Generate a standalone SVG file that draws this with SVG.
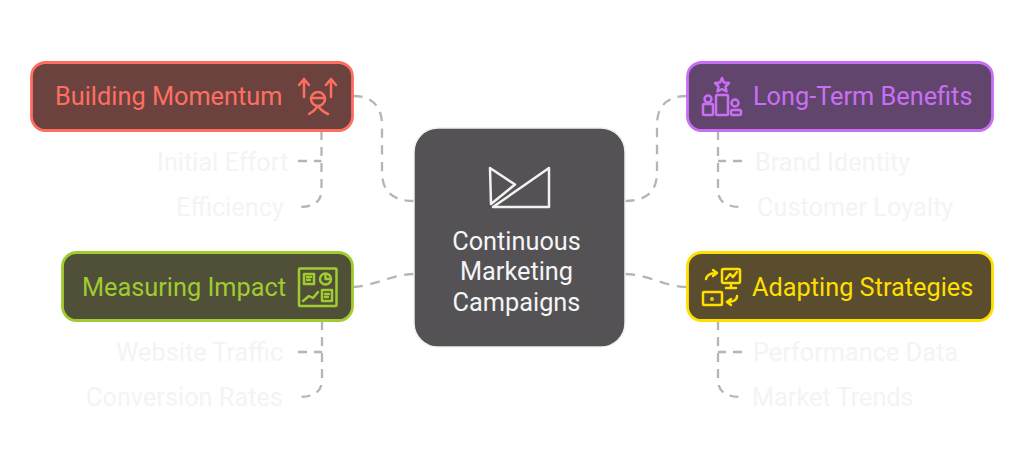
<svg xmlns="http://www.w3.org/2000/svg" width="1024" height="475" viewBox="0 0 1024 475">
<style>
text{font-family:Roboto,"Liberation Sans",sans-serif;font-size:25.300px}
.sub{fill:#f4f3f6}
.main{stroke-width:2.800}
.ic{fill:none;stroke-width:2.500;stroke-linecap:round;stroke-linejoin:round}
#connectors path{fill:none;stroke:#b5b5b7;stroke-width:2.300;stroke-dasharray:9 7}
</style>
<rect width="1024" height="475" fill="#ffffff"/>
<g id="connectors">
<path pathLength="137" d="M353 96C372 96 382 106 382 125V172C382 191 392 201 414 201"/>
<path d="M321.500 131V190C321.500 201 315 207 298 207"/>
<path d="M298 161H321.500"/>
<path pathLength="57" d="M353 287C375 286 392 274 414 274"/>
<path d="M322 321V380C322 391 315 397 298 397"/>
<path d="M298 352H322"/>
<path pathLength="137" d="M687 96C667 96 657 106 657 125V172C657 191 647 201 625 201"/>
<path d="M718 131V190C718 201 725 207 742 207"/>
<path d="M742 161H718"/>
<path pathLength="57" d="M687 287C665 287 648 274 625 274"/>
<path d="M718 321V380C718 391 725 397 742 397"/>
<path d="M742 352H718"/>
</g>
<g id="center">
<rect x="414" y="128" width="211" height="219" rx="24" fill="#545255" stroke="#f0f0f1" stroke-width="1.500"/>
<g class="ic" stroke="#f2f2f2"><path d="M490 168L515 184.500L491 204ZM549 168V207H493Z"/></g>
<text x="516.500" y="249.500" text-anchor="middle" fill="#f5f5f5">Continuous</text>
<text x="516.500" y="280" text-anchor="middle" fill="#f5f5f5">Marketing</text>
<text x="516.500" y="310.500" text-anchor="middle" fill="#f5f5f5">Campaigns</text>
</g>
<g id="building-momentum">
<rect class="main" x="31.500" y="62.500" width="321" height="68" rx="14" fill="#6b423e" stroke="#ff6f61"/>
<text x="55" y="104.700" fill="#ff6f61">Building Momentum</text>
<g class="ic" stroke="#ff6f61"><path d="M304 97V79M299 85L304 79L309 85M331 97V79M326 85L331 79L336 85"/><circle cx="318" cy="99" r="7"/><path d="M311 98H325M309 114C313 112 315 110 318 106C321 110 323 112 328 114"/></g>
</g>
<g id="initial-effort"><text class="sub" x="157" y="170.500">Initial Effort</text></g>
<g id="efficiency"><text class="sub" x="176" y="215.500">Efficiency</text></g>
<g id="measuring-impact">
<rect class="main" x="62.500" y="252.500" width="290" height="68" rx="14" fill="#4f5037" stroke="#a0cc31"/>
<text x="82" y="295.500" fill="#a0cc31">Measuring Impact</text>
<g class="ic" stroke="#a0cc31"><rect x="299" y="268.500" width="37.500" height="37.500" rx="1"/><rect x="304" y="274" width="10" height="10"/><path d="M307 277H311M307 280H310"/><circle cx="325.500" cy="279" r="5.500"/><path d="M325.500 274V279H331"/><path d="M303 301L309 296L313 298L318 292"/><rect x="322" y="290" width="10" height="11"/><path d="M325 294H329M325 297H328"/></g>
</g>
<g id="website-traffic"><text class="sub" x="116" y="360.500">Website Traffic</text></g>
<g id="conversion-rates"><text class="sub" x="86" y="405.500">Conversion Rates</text></g>
<g id="long-term-benefits">
<rect class="main" x="687.500" y="62.500" width="305" height="68" rx="14" fill="#62456d" stroke="#c96ff5"/>
<text x="753" y="104.700" fill="#c96ff5">Long-Term Benefits</text>
<g class="ic" stroke="#c96ff5"><path d="M722 78L724 82.500L729 83L725.500 86.500L726.500 91.500L722 89L717.500 91.500L718.500 86.500L715 83L720 82.500Z"/><rect x="716" y="95" width="12" height="20" rx="1"/><circle cx="708" cy="99" r="3.500"/><rect x="703" y="104" width="10" height="11" rx="1"/><circle cx="735" cy="103" r="3.500"/><rect x="731" y="110" width="10" height="5" rx="1.500"/></g>
</g>
<g id="brand-identity"><text class="sub" x="755" y="170.500">Brand Identity</text></g>
<g id="customer-loyalty"><text class="sub" x="757" y="215.500">Customer Loyalty</text></g>
<g id="adapting-strategies">
<rect class="main" x="687.500" y="252.500" width="305" height="68" rx="14" fill="#5a4d2d" stroke="#ffdf00"/>
<text x="752" y="295.500" fill="#ffdf00">Adapting Strategies</text>
<g class="ic" stroke="#ffdf00"><rect x="722" y="269" width="18" height="14" rx="1.500"/><path d="M731 283V288M726 288H736M726 279L730 274L733 277L737 272"/><rect x="703" y="292" width="19" height="13" rx="1"/><circle cx="712" cy="299" r="0.700"/><path d="M706 279C707 275 711 273 716 273M713 270L717 273L713 276M737 296C737 300 733 302 728 302M731 299L727 302L731 305"/></g>
</g>
<g id="performance-data"><text class="sub" x="753" y="360.500">Performance Data</text></g>
<g id="market-trends"><text class="sub" x="752" y="405.500">Market Trends</text></g>
</svg>
